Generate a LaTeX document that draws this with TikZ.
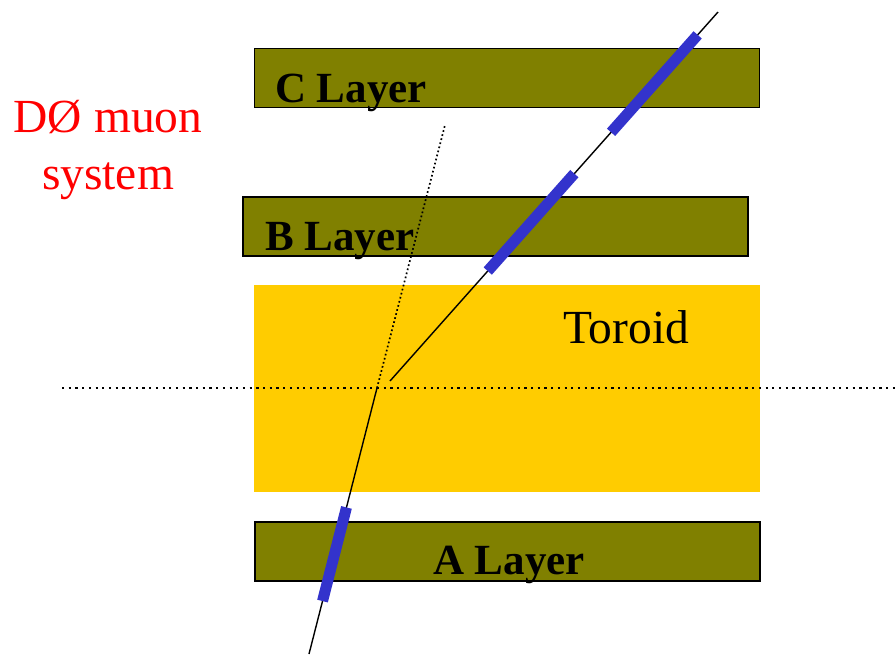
\documentclass[tikz,border=0pt]{standalone}
\usepackage{fontspec}
\setmainfont{Liberation Serif}
\usetikzlibrary{calc}

\begin{document}
\begin{tikzpicture}[x=1pt,y=-1pt]
\tikzset{
  layerbox/.style={rectangle,draw=black,fill=olivelayer,line width=1.5pt,inner sep=0pt,minimum width=505pt,minimum height=59pt},
  toroidbox/.style={rectangle,fill=toroidfill,inner sep=0pt,minimum width=506pt,minimum height=207pt},
  layertext/.style={anchor=base west,inner sep=0pt,font=\fontsize{43}{43}\selectfont\bfseries},
  bigtext/.style={anchor=base west,inner sep=0pt,font=\fontsize{47.5}{47.5}\selectfont},
  track/.style={draw=black,line width=1.4pt},
  guide/.style={draw=black,line width=2.2pt,dash pattern=on 2.2pt off 4.5pt},
  slant/.style={draw=black,line width=1.7pt,dash pattern=on 1.7pt off 2.5pt},
  hit/.style={draw=hitblue,line width=11pt,line cap=butt}
}
\definecolor{olivelayer}{RGB}{128,128,0}
\definecolor{toroidfill}{RGB}{255,204,0}
\definecolor{hitblue}{RGB}{51,51,204}
\useasboundingbox (0,0) rectangle (895,654);
\node[layerbox] (n_C) at (507,78) {};
\node[layerbox] (n_B) at (495.5,226.5) {};
\node[toroidbox] (n_T) at (507,388.5) {};
\node[layerbox] (n_A) at (507.5,551.5) {};
\coordinate (c_axisL) at (62,388);
\coordinate (c_axisR) at (895,388);
\coordinate (c_low) at (309,654);
\coordinate (c_kink) at (377,388);
\coordinate (c_dot) at (445,125);
\coordinate (c_up0) at (390,381);
\coordinate (c_up1) at (718,12);
\draw[guide] (c_axisL) -- (c_axisR);
\draw[slant] (c_kink) -- (c_dot);
\draw[track] (c_low) -- (c_kink);
\draw[track] (c_up0) -- (c_up1);
\draw[hit] ($(c_kink)!0.449!(c_low)$) -- ($(c_kink)!0.801!(c_low)$);
\draw[hit] ($(c_up0)!0.298!(c_up1)$) -- ($(c_up0)!0.562!(c_up1)$);
\draw[hit] ($(c_up0)!0.674!(c_up1)$) -- ($(c_up0)!0.938!(c_up1)$);
\node[layertext] (t_C) at (275,102) {C Layer};
\node[layertext] (t_B) at (265,250) {B Layer};
\node[layertext] (t_A) at (433,574) {A Layer};
\node[bigtext] (t_T) at (563,343) {Toroid};
\node[bigtext,anchor=base,text=red] (t_title1) at (108,132) {DØ muon};
\node[bigtext,anchor=base,text=red] (t_title2) at (108,189) {system};
\end{tikzpicture}
\end{document}
